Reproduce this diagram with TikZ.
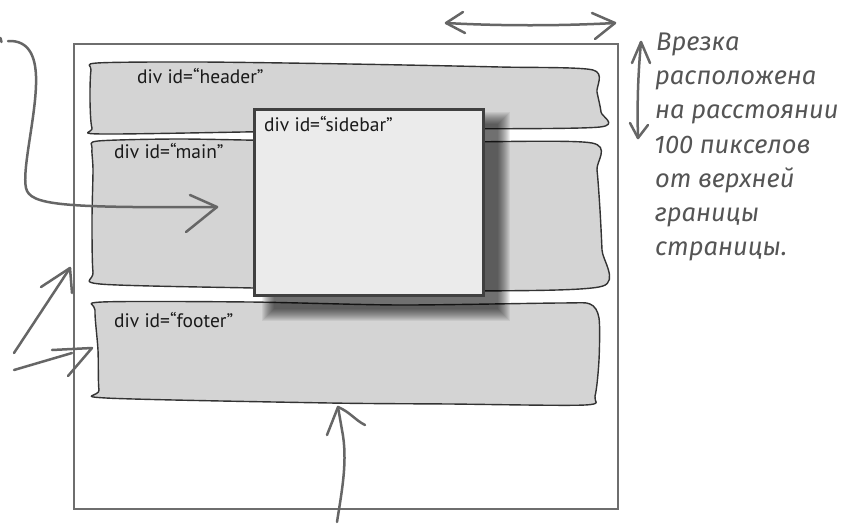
\documentclass[tikz,border=0pt]{standalone}
\usepackage{fontspec}
\setmainfont{PT Sans}
\newfontfamily\hand{Fira Sans}
\definecolor{blobfill}{HTML}{D4D4D4}
\definecolor{blobline}{HTML}{333333}
\definecolor{pagegray}{HTML}{6E6E6E}
\definecolor{pengray}{HTML}{666666}
\definecolor{sidefill}{HTML}{EBEBEB}
\definecolor{sideline}{HTML}{404040}
\definecolor{labeltext}{HTML}{1A1A1A}
\definecolor{handgray}{HTML}{555555}
\tikzset{
  blobshape/.style={fill=blobfill, draw=blobline, line width=1.4pt, line join=round},
  pagebox/.style={draw=pagegray, line width=2pt},
  pen/.style={draw=pengray, line width=2.5pt, line cap=round, line join=round},
  lbl/.style={anchor=base west, inner sep=0pt, text=labeltext, font=\fontsize{19.5}{22}\selectfont},
  handtxt/.style={anchor=base west, inner sep=0pt, text=handgray, font=\hand\itshape\fontsize{25.5}{30}\selectfont},
  sidebox/.style={draw=sideline, fill=sidefill, line width=2.5pt, anchor=north west, inner sep=0pt, minimum width=229pt, minimum height=186pt},
}
\begin{document}
\begin{tikzpicture}[x=1pt, y=-1pt]
\useasboundingbox (0,0) rectangle (852,523);
\fill[white] (0,0) rectangle (852,523);
% page
\node (page) [pagebox, anchor=north west, inner sep=0pt, minimum width=544pt, minimum height=465pt] at (73,43) {};
% header
\draw[blobshape] plot[smooth cycle, tension=0.45] coordinates {
  (97,63) (200,62) (350,64) (500,67) (593,70) (597,92) (601,112) (600,127)
  (450,129) (300,131) (102,134) (92,128) (90,100) (91,70)};
% main
\draw[blobshape] plot[smooth cycle, tension=0.45] coordinates {
  (98,141) (180,139) (300,141) (450,142) (592,143) (597,170) (600,210) (602,250) (603,286)
  (480,291) (350,290) (253,288) (100,284) (93,272) (92,220) (93,170) (92,148)};
% footer
\draw[blobshape] plot[smooth cycle, tension=0.45] coordinates {
  (102,302) (250,302) (400,305) (560,303) (590,304) (599,318) (599,360) (595,396) (585,405)
  (450,404) (330,403) (106,398) (99,390) (98,350) (95,310)};
% shadow of sidebar
\foreach \i in {0,...,12} {
  \fill[black, opacity=0.06] (262+\i,112+\i) rectangle (510-\i,321-\i);
}
% sidebar
\node (sidebar) [sidebox] at (253,108) {};
% labels
\node (lh) [lbl] at (137,83) {div id=“header”};
\node (lm) [lbl] at (114,158) {div id=“main”};
\node (ls) [lbl] at (264,131) {div id=“sidebar”};
\node (lf) [lbl] at (114,327) {div id=“footer”};
% handwritten note
\node (t1) [handtxt] at (656,50) {Врезка};
\node (t2) [handtxt] at (655,84) {расположена};
\node (t3) [handtxt] at (655,118) {на расстоянии};
\node (t4) [handtxt] at (654,153) {100 пикселов};
\node (t5) [handtxt] at (655,187) {от верхней};
\node (t6) [handtxt] at (655,221) {границы};
\node (t7) [handtxt] at (655,255) {страницы.};
% arrow coordinates
\coordinate (hl) at (446,23);
\coordinate (hr) at (615,23);
\coordinate (vt) at (641,42);
\coordinate (vb) at (638,138);
\coordinate (cs) at (8,41);
\coordinate (ct) at (217,207);
\coordinate (a1s) at (14,353);
\coordinate (a1t) at (70,268);
\coordinate (a2s) at (14,370);
\coordinate (a2e) at (72,353);
\coordinate (a2t) at (92,348);
\coordinate (a3s) at (337,522);
\coordinate (a3t) at (338,407);
% horizontal double arrow
\draw[pen] (hl) .. controls (500,26) and (560,26) .. (hr);
\draw[pen] (463,12) -- (hl) -- (465,33);
\draw[pen] (592,13) -- (hr) -- (595,39);
% vertical double arrow
\draw[pen] (vt) .. controls (638,75) and (637,105) .. (vb);
\draw[pen] (632,63) -- (vt) -- (650,63);
\draw[pen] (630,123) -- (vb) -- (648,125);
% curvy arrow into main
\draw[pen] (0.5,38) -- (1.5,42);
\draw[pen] (cs) .. controls (30,40) and (37,58) .. (36,85)
  .. controls (35,120) and (22,170) .. (26,188)
  .. controls (30,205) and (60,208) .. (ct);
\draw[pen] (190,195) -- (ct) -- (186,232);
% arrows at left
\draw[pen] (a1s) -- (a1t);
\draw[pen] (41,287) -- (a1t) -- (72,293);
\draw[pen] (a2s) -- (a2e);
\draw[pen] (52,350) -- (a2t) -- (68,376);
% bottom arrow
\draw[pen] (a3s) .. controls (342,490) and (348,460) .. (342,430) -- (a3t);
\draw[pen] (327,435) -- (a3t) .. controls (350,412) and (355,420) .. (365,425);
\end{tikzpicture}
\end{document}
